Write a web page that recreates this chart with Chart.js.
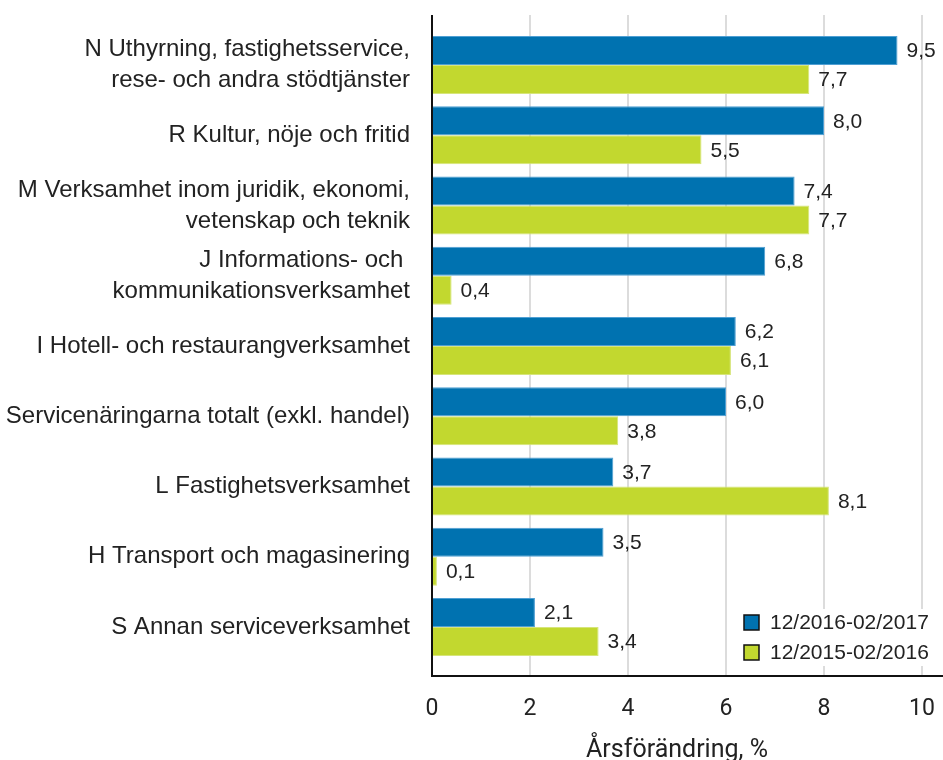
<!DOCTYPE html>
<html>
<head>
<meta charset="utf-8">
<script src="https://cdn.jsdelivr.net/npm/chart.js@4"></script>
<style>
  html, body { margin: 0; padding: 0; background: #ffffff; }
  #wrap { width: 943px; height: 760px; position: relative; }
</style>
</head>
<body>
<div id="wrap"><canvas id="c"></canvas></div>
<script>
const categories = [
  ['N Uthyrning, fastighetsservice,', 'rese- och andra stödtjänster'],
  'R Kultur, nöje och fritid',
  ['M Verksamhet inom juridik, ekonomi,', 'vetenskap och teknik'],
  ['J Informations- och ', 'kommunikationsverksamhet'],
  'I Hotell- och restaurangverksamhet',
  'Servicenäringarna totalt (exkl. handel)',
  'L Fastighetsverksamhet',
  'H Transport och magasinering',
  'S Annan serviceverksamhet'
];
const series2017 = [9.5, 8.0, 7.4, 6.8, 6.2, 6.0, 3.7, 3.5, 2.1];
const series2016 = [7.7, 5.5, 7.7, 0.4, 6.1, 3.8, 8.1, 0.1, 3.4];
const seriesNames = ['12/2016-02/2017', '12/2015-02/2016'];
const xTicks = [0, 2, 4, 6, 8, 10];
const axisTitle = 'Årsförändring, %';

const BLUE = '#0072b0';
const GREEN = '#c2d82f';

const gridAndAxes = {
  id: 'gridAndAxes',
  beforeDatasetsDraw(chart) {
    const ctx = chart.ctx;
    const xs = chart.scales.x;
    const top = 15, bottom = 676;
    ctx.save();
    ctx.strokeStyle = '#dcdcdc';
    ctx.lineWidth = 2;
    xTicks.forEach(v => {
      if (v === 0) return;
      const x = Math.round(xs.getPixelForValue(v));
      ctx.beginPath();
      ctx.moveTo(x, top);
      ctx.lineTo(x, bottom);
      ctx.stroke();
    });
    ctx.restore();
  },
  afterDatasetsDraw(chart) {
    const ctx = chart.ctx;
    const xs = chart.scales.x;
    const x0 = Math.round(xs.getPixelForValue(0));
    ctx.save();
    ctx.strokeStyle = '#111111';
    ctx.lineWidth = 2;
    ctx.beginPath();
    ctx.moveTo(x0, 15);
    ctx.lineTo(x0, 677);
    ctx.moveTo(x0 - 1, 676);
    ctx.lineTo(chart.width, 676);
    ctx.stroke();

    ctx.font = '21px "Liberation Sans", Arial, sans-serif';
    ctx.fillStyle = '#222222';
    ctx.textAlign = 'left';
    ctx.textBaseline = 'middle';
    chart.data.datasets.forEach((ds, di) => {
      const meta = chart.getDatasetMeta(di);
      meta.data.forEach((el, i) => {
        const txt = ds.data[i].toFixed(1).replace('.', ',');
        ctx.fillText(txt, el.x + 9, el.y + 1);
      });
    });
    ctx.restore();
  },
  afterDraw(chart) {
    const ctx = chart.ctx;
    ctx.save();
    ctx.fillStyle = '#ffffff';
    ctx.fillRect(735, 609, 208, 57);
    ctx.font = '21px "Liberation Sans", Arial, sans-serif';
    ctx.textAlign = 'left';
    ctx.textBaseline = 'middle';
    chart.data.datasets.forEach((ds, di) => {
      const y = 615 + di * 30;
      ctx.fillStyle = ds.backgroundColor;
      ctx.fillRect(744, y, 15, 15);
      ctx.strokeStyle = '#111111';
      ctx.lineWidth = 1.5;
      ctx.strokeRect(744, y, 15, 15);
      ctx.fillStyle = '#222222';
      ctx.fillText(ds.label, 770, y + 8.5);
    });
    ctx.restore();
  }
};

new Chart(document.getElementById('c'), {
  type: 'bar',
  data: {
    labels: categories,
    datasets: [
      { label: seriesNames[0], data: series2017, backgroundColor: BLUE, borderColor: '#4f9fd3', borderWidth: 1 },
      { label: seriesNames[1], data: series2016, backgroundColor: GREEN, borderColor: '#d6e57a', borderWidth: 1 }
    ]
  },
  options: {
    indexAxis: 'y',
    responsive: true,
    maintainAspectRatio: false,
    animation: false,
    layout: { padding: { top: 30, right: 21, bottom: 0, left: 0 } },
    datasets: { bar: { categoryPercentage: 0.826, barPercentage: 1.0 } },
    plugins: { legend: { display: false }, tooltip: { enabled: false } },
    scales: {
      y: {
        type: 'category',
        offset: true,
        grid: { display: false },
        border: { display: false },
        ticks: {
          color: '#222222',
          padding: 14,
          autoSkip: false,
          font: { family: '"Liberation Sans", Arial, sans-serif', size: 24, lineHeight: 1.3 }
        },
        afterFit(scale) { scale.width = 432; scale.paddingTop = 0; scale.paddingBottom = 0; }
      },
      x: {
        type: 'linear',
        min: 0,
        max: 10,
        grid: { display: false },
        border: { display: false },
        afterBuildTicks(scale) { scale.ticks = xTicks.map(v => ({ value: v })); },
        ticks: {
          color: '#222222',
          padding: 25,
          maxRotation: 0,
          font: { family: 'Roboto, sans-serif', size: 23 },
          callback: v => String(v)
        },
        title: {
          display: true,
          text: axisTitle,
          color: '#222222',
          font: { family: 'Roboto, sans-serif', size: 25 },
          padding: { top: 0, bottom: -6 }
        },
        afterFit(scale) { scale.height = 98; scale.paddingLeft = 0; scale.paddingRight = 0; }
      }
    }
  },
  plugins: [gridAndAxes]
});
</script>
</body>
</html>
